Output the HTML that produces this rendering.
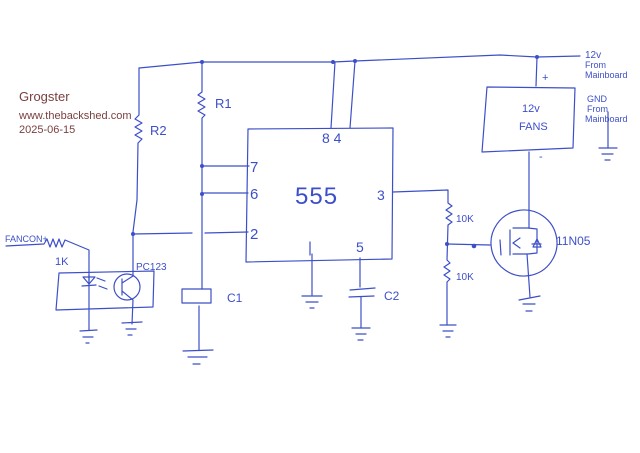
<!DOCTYPE html>
<html><head><style>
html,body{margin:0;padding:0;background:#fff;}
svg{display:block;}
.w{fill:none;stroke:#3d4fc8;stroke-width:1.2;stroke-linecap:round;stroke-linejoin:round;}
.t{fill:#3d4fc8;font-family:"Liberation Sans",sans-serif;}
.a{fill:#7a3f3f;font-family:"Liberation Sans",sans-serif;}
</style></head><body>
<svg width="640" height="453" viewBox="0 0 640 453" xmlns="http://www.w3.org/2000/svg">
<rect width="640" height="453" fill="#fff"/>
<text class="a" x="19" y="101" font-size="13">Grogster</text>
<text class="a" x="19" y="119" font-size="11">www.thebackshed.com</text>
<text class="a" x="19" y="133" font-size="11">2025-06-15</text>
<g class="w">
<path d="M139,68 L202,62 L333,62 L355,61 L500,55 L537,57 L580,56"/>
<path d="M139,68 L139,115 l-4,4 l7,4 l-7,4 l7,4 l-7,4 l7,4 l-4,4 L137,200 L133,232 L133,262"/>
<path d="M202,62 L202,92 l-4,3 l7,4 l-7,4 l7,4 l-7,4 l7,4 l-3,3 L202,289"/>
<path d="M202,166 L249,166"/><path d="M202,193 L248,193"/>
<path d="M133,234 L192,233"/><path d="M205,233 L248,232"/>
<path d="M248,129 L393,128 L392,259 L246,262 Z"/>
<path d="M335,62 L331,128"/><path d="M355,61 L350,128"/>
<path d="M310,242 L310,255"/><path d="M312,254 L312,295"/>
<path d="M360,258 L360,287"/><path d="M350,290 L375,288"/><path d="M349,297 L374,296"/><path d="M361,297 L361,328"/>
<path d="M393,192 L448,190 L448,203 l4,3 l-6,4 l6,4 l-6,4 l6,4 l-4,3 L447,260 l3,3 l-6,4 l6,4 l-6,4 l6,4 l-3,3 L447,325"/>
<path d="M447,244 L490,245"/>
<circle cx="524" cy="243" r="33" transform="rotate(-10 524 243)"/>
<path d="M500,240 L501,255"/><path d="M510,230 L510,255"/>
<path d="M513,228 L528,228 L537,229 L537,253 L528,254 L513,254"/>
<path d="M513,243 L520,238"/><path d="M513,243 L520,248"/>
<path d="M529,152 L529,228"/><path d="M527,254 L530,297"/>
<path d="M532,244 L541,244"/><path d="M537,239 L533,247 L541,247 Z"/>
<path d="M487,87 L575,88 L573,148 L482,152 Z"/>
<path d="M537,57 L536,86"/>
<path d="M182,289 L211,289 L211,303 L182,303 Z"/>
<path d="M199,306 L199,350"/>
<path d="M59,273 L154,271 L153,307 L56,310 Z"/>
<path d="M6,246 L44,244 l3,-5 l3,8 l3,-8 l3,8 l3,-8 l3,8 l3,-7 L89,250 L89,282"/>
<path d="M89,275 L89,330"/>
<path d="M83,277 L95,277 L89,284 Z"/><path d="M82,286 L96,285"/>
<path d="M97,278 l8,3 M99,286 l8,3"/>
<circle cx="127" cy="287" r="13"/>
<path d="M122,279 L122,295 M122,283 L133,276 M122,291 L133,300 L132,324"/>
<path d="M133,262 L133,276"/>
<path d="M80,331 L97,330 M83,337 L93,337 M86,343 L89,343"/>
<path d="M122,323 L142,322 M126,329 L136,329 M128,335 L132,335"/>
<path d="M183,351 L213,350 M188,357 L207,357 M193,364 L200,364"/>
<path d="M302,296 L322,296 M306,302 L318,302 M310,308 L314,308"/>
<path d="M352,328 L370,328 M356,334 L366,334 M358,340 L363,340"/>
<path d="M440,325 L456,325 M443,331 L453,331 M446,337 L450,337"/>
<path d="M519,300 L540,296 M523,304 L535,304 M526,311 L532,311"/>
<path d="M608,112 L608,148 M599,148 L617,148 M602,154 L613,154 M605,160 L610,160"/>
</g>
<g fill="#3d4fc8">
<circle cx="202" cy="62" r="2"/><circle cx="202" cy="166" r="2"/><circle cx="202" cy="194" r="2"/>
<circle cx="133" cy="234" r="2"/><circle cx="333" cy="62" r="2"/><circle cx="355" cy="61" r="2"/>
<circle cx="537" cy="57" r="2"/><circle cx="447" cy="244" r="2"/><circle cx="474" cy="246" r="2.3"/>
</g>
<g class="t">
<text x="215" y="108" font-size="13">R1</text>
<text x="150" y="135" font-size="13">R2</text>
<text x="250" y="172" font-size="15">7</text>
<text x="250" y="199" font-size="15">6</text>
<text x="250" y="239" font-size="15">2</text>
<text x="322" y="143" font-size="14">8 4</text>
<text x="295" y="204" font-size="24" letter-spacing="1">555</text>
<text x="377" y="200" font-size="14">3</text>
<text x="356" y="252" font-size="14">5</text>
<text x="384" y="300" font-size="12">C2</text>
<text x="227" y="302" font-size="12">C1</text>
<text x="456" y="222" font-size="10">10K</text>
<text x="456" y="280" font-size="10">10K</text>
<text x="556" y="245" font-size="12">11N05</text>
<text x="522" y="112" font-size="11">12v</text>
<text x="519" y="130" font-size="11">FANS</text>
<text x="542" y="81" font-size="11">+</text>
<text x="539" y="160" font-size="11">-</text>
<text x="585" y="58" font-size="10">12v</text>
<text x="585" y="68" font-size="9">From</text>
<text x="585" y="78" font-size="9">Mainboard</text>
<text x="587" y="102" font-size="9">GND</text>
<text x="587" y="112" font-size="9">From</text>
<text x="585" y="122" font-size="9">Mainboard</text>
<text x="5" y="242" font-size="9">FANCON+</text>
<text x="55" y="265" font-size="11">1K</text>
<text x="136" y="270" font-size="10">PC123</text>
</g>
</svg>
</body></html>
